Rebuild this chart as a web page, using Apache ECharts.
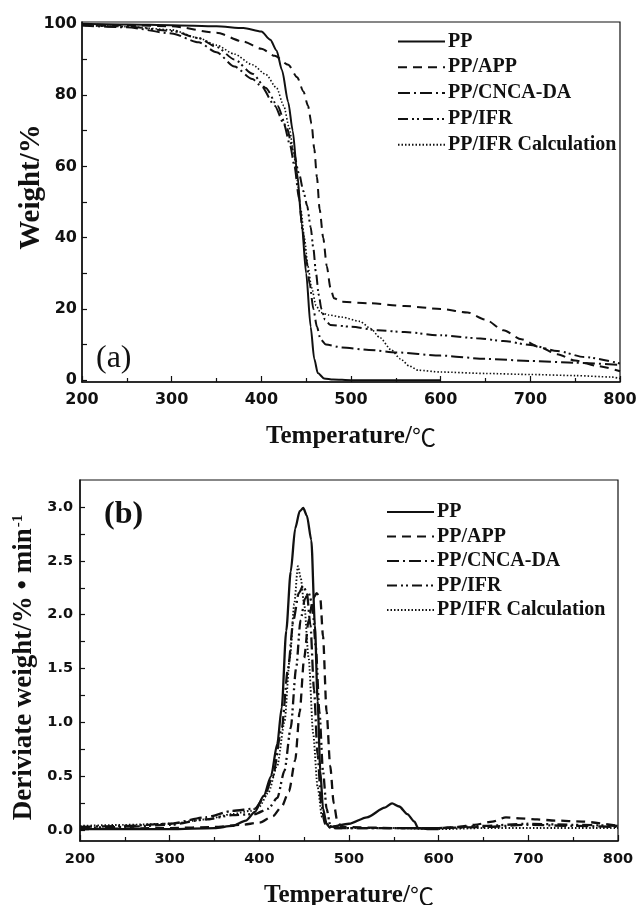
<!DOCTYPE html>
<html>
<head>
<meta charset="utf-8">
<script src="https://cdn.jsdelivr.net/npm/echarts@6/dist/echarts.min.js"></script>
<style>html,body{margin:0;padding:0;background:#fff;}#c{width:637px;height:905px;}</style>
</head>
<body>
<div id="c"></div>
<script>
// ---------- DATA ----------
const seriesNames = ['PP', 'PP/APP', 'PP/CNCA-DA', 'PP/IFR', 'PP/IFR Calculation'];
const xTicks = [200, 300, 400, 500, 600, 700, 800];
const yTicksA = [0, 20, 40, 60, 80, 100];
const yTicksB = [0, 0.5, 1.0, 1.5, 2.0, 2.5, 3.0];

// (a) TGA: weight % vs temperature
const tgaPP = [[200,100],[250,99.8],[300,99.6],[350,99.3],[380,98.8],[400,97.8],[410,95.5],[417,92.5],[423,87],[430,78],[435,70],[440,58],[445,44],[450,30],[455,15],[459,6],[463,2],[470,0.5],[480,0.2],[500,0],[600,0]];
const tgaAPP = [[200,99.8],[250,99.6],[300,99.3],[350,97.5],[380,95],[400,93],[415,91],[430,88.5],[440,85],[447,81],[452,77],[456,72],[459,65],[462,57],[465,48],[469,40],[473,32],[477,26],[481,23],[490,22],[520,21.6],[560,20.8],[600,20],[630,19],[650,17],[670,14],[690,11.5],[710,9.3],[730,7.3],[750,5.5],[775,4],[800,2.5]];
const tgaCNCA = [[200,99.5],[250,99],[300,97.3],[330,94.8],[350,92],[370,88],[390,84.5],[400,82.5],[415,77],[425,72],[432,66],[437,60],[442,51],[446,42],[450,34],[454,27],[458,20],[462,15],[466,11.5],[472,10],[490,9.2],[520,8.5],[550,7.8],[600,6.9],[650,6],[700,5.4],[750,4.9],[800,4.3]];
const tgaIFR = [[200,99.6],[250,99.2],[300,98],[330,96],[350,93.5],[370,90],[390,86],[405,82],[418,77],[428,71],[436,64],[442,58],[447,53],[451,49],[455,43],[458,37],[461,30],[464,24],[467,20],[471,17],[477,15.5],[500,15],[530,14],[560,13.5],[600,12.6],[640,11.8],[670,11],[700,9.9],[730,8.2],[760,6.5],[800,4.7]];
const tgaCalc = [[200,99.6],[250,99.2],[300,98.3],[330,96],[350,94],[370,91.5],[390,88.5],[405,85.8],[417,82],[425,77],[431,71],[436,64],[440,56],[444,48],[448,40],[452,32],[456,26],[461,21],[466,19],[475,18.3],[490,17.7],[510,16.5],[522,14.5],[532,12],[545,8.5],[555,6],[565,4],[575,2.8],[600,2.3],[650,1.9],[700,1.6],[750,1.3],[790,0.9],[800,0.5]];

// (b) DTG: derivative weight vs temperature
const dtgPP = [[200,0.01],[300,0.01],[350,0.02],[370,0.04],[385,0.09],[395,0.17],[405,0.32],[413,0.5],[420,0.8],[425,1.14],[430,1.85],[435,2.4],[440,2.8],[445,2.96],[449,2.99],[453,2.92],[458,2.69],[462,1.9],[465,1.2],[468,0.55],[471,0.2],[475,0.06],[478,0.03],[500,0.06],[520,0.12],[540,0.21],[548,0.25],[556,0.22],[565,0.15],[573,0.08],[577,0.02],[590,0.01],[600,0.01]];
const dtgAPP = [[200,0.01],[300,0.02],[350,0.03],[380,0.05],[400,0.07],[415,0.13],[425,0.22],[433,0.36],[440,0.65],[445,1.1],[450,1.6],[455,1.95],[460,2.15],[464,2.2],[468,2.15],[471,1.8],[475,1.1],[479,0.6],[483,0.25],[487,0.08],[492,0.03],[550,0.02],[600,0.02],[620,0.03],[640,0.05],[660,0.08],[675,0.12],[690,0.11],[710,0.1],[730,0.09],[760,0.08],[800,0.04]];
const dtgCNCA = [[200,0.03],[250,0.04],[300,0.06],[340,0.12],[370,0.18],[395,0.2],[405,0.3],[415,0.5],[425,0.95],[432,1.5],[438,1.95],[444,2.2],[449,2.27],[453,2.2],[457,1.9],[461,1.3],[465,0.7],[469,0.25],[473,0.06],[480,0.02],[600,0.02],[650,0.03],[700,0.05],[750,0.04],[800,0.03]];
const dtgIFR = [[200,0.02],[250,0.03],[300,0.05],[340,0.1],[370,0.14],[395,0.15],[410,0.2],[420,0.3],[428,0.55],[435,0.95],[441,1.5],[446,1.95],[451,2.15],[455,2.2],[459,2.1],[463,1.7],[467,1.1],[471,0.55],[475,0.2],[479,0.05],[485,0.02],[600,0.02],[650,0.04],[700,0.06],[750,0.05],[800,0.04]];
const dtgCalc = [[200,0.04],[250,0.05],[300,0.06],[340,0.1],[370,0.15],[390,0.18],[400,0.22],[410,0.35],[420,0.6],[428,1.0],[434,1.6],[439,2.1],[443,2.45],[446,2.35],[450,2.1],[455,1.6],[460,0.9],[465,0.4],[470,0.12],[478,0.04],[500,0.02],[550,0.02],[600,0.01],[650,0.02],[700,0.02],[800,0.02]];

// ---------- STYLE ----------
const lineTypes = ['solid', [9, 6], [12, 4, 2, 4], [10, 4, 2, 3, 2, 4], [1.5, 2]];
const lineWidths = [2, 2, 2, 2, 1.6];
const SANS = '"DejaVu Sans", "Liberation Sans", Arial, sans-serif';
const SERIF = '"Liberation Serif", "Times New Roman", serif';
const CJK = '"Noto Sans CJK SC", "Noto Sans", sans-serif';

const chart = echarts.init(document.getElementById('c'), null, {renderer: 'canvas'});

function xAxisDef(gridIndex, nameGap, fs, margin) {
  return {
    type: 'value', gridIndex, min: 200, max: 800, interval: 100,
    name: '{t|Temperature/}{c|℃}', nameLocation: 'middle', nameGap, nameMoveOverlap: false,
    nameTextStyle: {fontFamily: SERIF, fontWeight: 'bold', fontSize: 25, color: '#111',
      rich: {t: {fontFamily: SERIF, fontWeight: 'bold', fontSize: 25, color: '#111'},
             c: {fontFamily: CJK, fontWeight: 'normal', fontSize: 24, color: '#111'}}},
    axisLine: {show: true, onZero: false, lineStyle: {color: '#111', width: 1.5}},
    axisTick: {show: true, inside: true, length: 6, lineStyle: {color: '#111', width: 1.2}},
    minorTick: {show: true, splitNumber: 2, length: 4, lineStyle: {color: '#111', width: 1.2}},
    axisLabel: {fontFamily: SANS, fontWeight: 'bold', fontSize: fs, color: '#111', margin},
    splitLine: {show: false}
  };
}

const seriesA = [tgaPP, tgaAPP, tgaCNCA, tgaIFR, tgaCalc];
const seriesB = [dtgPP, dtgAPP, dtgCNCA, dtgIFR, dtgCalc];
const series = [];
seriesA.forEach((d, i) => series.push({
  name: seriesNames[i], type: 'line', xAxisIndex: 0, yAxisIndex: 0, data: d,
  symbol: 'none', smooth: 0.25, smoothMonotone: 'x', animation: false,
  lineStyle: {color: '#111', width: lineWidths[i], type: lineTypes[i]}, itemStyle: {color: '#111'}
}));
seriesB.forEach((d, i) => series.push({
  name: seriesNames[i], type: 'line', xAxisIndex: 1, yAxisIndex: 1, data: d,
  symbol: 'none', smooth: 0.25, smoothMonotone: 'x', animation: false,
  lineStyle: {color: '#111', width: lineWidths[i] + 0.3, type: lineTypes[i]}, itemStyle: {color: '#111'}
}));

function legendDef(left, top, gap) {
  return {
    data: seriesNames, orient: 'vertical', left, top, padding: 0, itemWidth: 47, itemHeight: 14, itemGap: gap,
    selectedMode: false,
    itemStyle: {color: 'transparent', opacity: 0, borderWidth: 0},
    textStyle: {fontFamily: SERIF, fontWeight: 'bold', fontSize: 20, color: '#111', padding: [0,0,0,-2]}
  };
}

const option = {
  backgroundColor: '#fff',
  animation: false,
  grid: [
    {left: 82, top: 22, width: 538, height: 360, show: true, borderColor: '#111', borderWidth: 1.2, backgroundColor: 'transparent', outerBoundsMode: 'none', containLabel: false},
    {left: 80, top: 480, width: 538, height: 361, show: true, borderColor: '#111', borderWidth: 1.2, backgroundColor: 'transparent', outerBoundsMode: 'none', containLabel: false}
  ],
  legend: [legendDef(397, 31.5, 5.8), legendDef(386, 502, 4.5)],
  xAxis: [xAxisDef(0, 42, 16, 10), xAxisDef(1, 42, 14.5, 11)],
  yAxis: [
    {
      type: 'value', gridIndex: 0, min: -0.5, max: 100.5,
      name: 'Weight/%', nameLocation: 'middle', nameGap: 36, nameMoveOverlap: false,
      nameTextStyle: {fontFamily: SERIF, fontWeight: 'bold', fontSize: 29, color: '#111', padding: [0,0,0,30]},
      axisLine: {show: true, onZero: false, lineStyle: {color: '#111', width: 1.5}},
      axisTick: {show: true, inside: true, length: 5, customValues: [0,10,20,30,40,50,60,70,80,90,100], lineStyle: {color: '#111', width: 1.2}},
      axisLabel: {fontFamily: SANS, fontWeight: 'bold', fontSize: 16, color: '#111', margin: 5, customValues: yTicksA},
      splitLine: {show: false}
    },
    {
      type: 'value', gridIndex: 1, min: -0.1, max: 3.25,
      name: '{t|Deriviate weight/% • min}{s|-1}', nameLocation: 'middle', nameGap: 42, nameMoveOverlap: false,
      nameTextStyle: {fontFamily: SERIF, fontWeight: 'bold', fontSize: 27, color: '#111', padding: [0,14,0,0],
        rich: {t: {fontFamily: SERIF, fontWeight: 'bold', fontSize: 27, color: '#111'},
               s: {fontFamily: SERIF, fontWeight: 'bold', fontSize: 15, color: '#111', verticalAlign: 'top', padding: [0,0,12,1]}}},
      axisLine: {show: true, onZero: false, lineStyle: {color: '#111', width: 1.5}},
      axisTick: {show: true, inside: true, length: 5, customValues: [0,0.25,0.5,0.75,1,1.25,1.5,1.75,2,2.25,2.5,2.75,3], lineStyle: {color: '#111', width: 1.2}},
      axisLabel: {fontFamily: SANS, fontWeight: 'bold', fontSize: 14.5, color: '#111', margin: 7, customValues: yTicksB,
        formatter: v => v.toFixed(1)},
      splitLine: {show: false}
    }
  ],
  graphic: [
    {type: 'text', left: 96, top: 343, style: {text: '(a)', fontFamily: SERIF, fontSize: 32, fill: '#111'}},
    {type: 'text', left: 104, top: 499, style: {text: '(b)', fontFamily: SERIF, fontWeight: 'bold', fontSize: 32, fill: '#111'}}
  ],
  series
};
chart.setOption(option);
</script>
</body>
</html>
